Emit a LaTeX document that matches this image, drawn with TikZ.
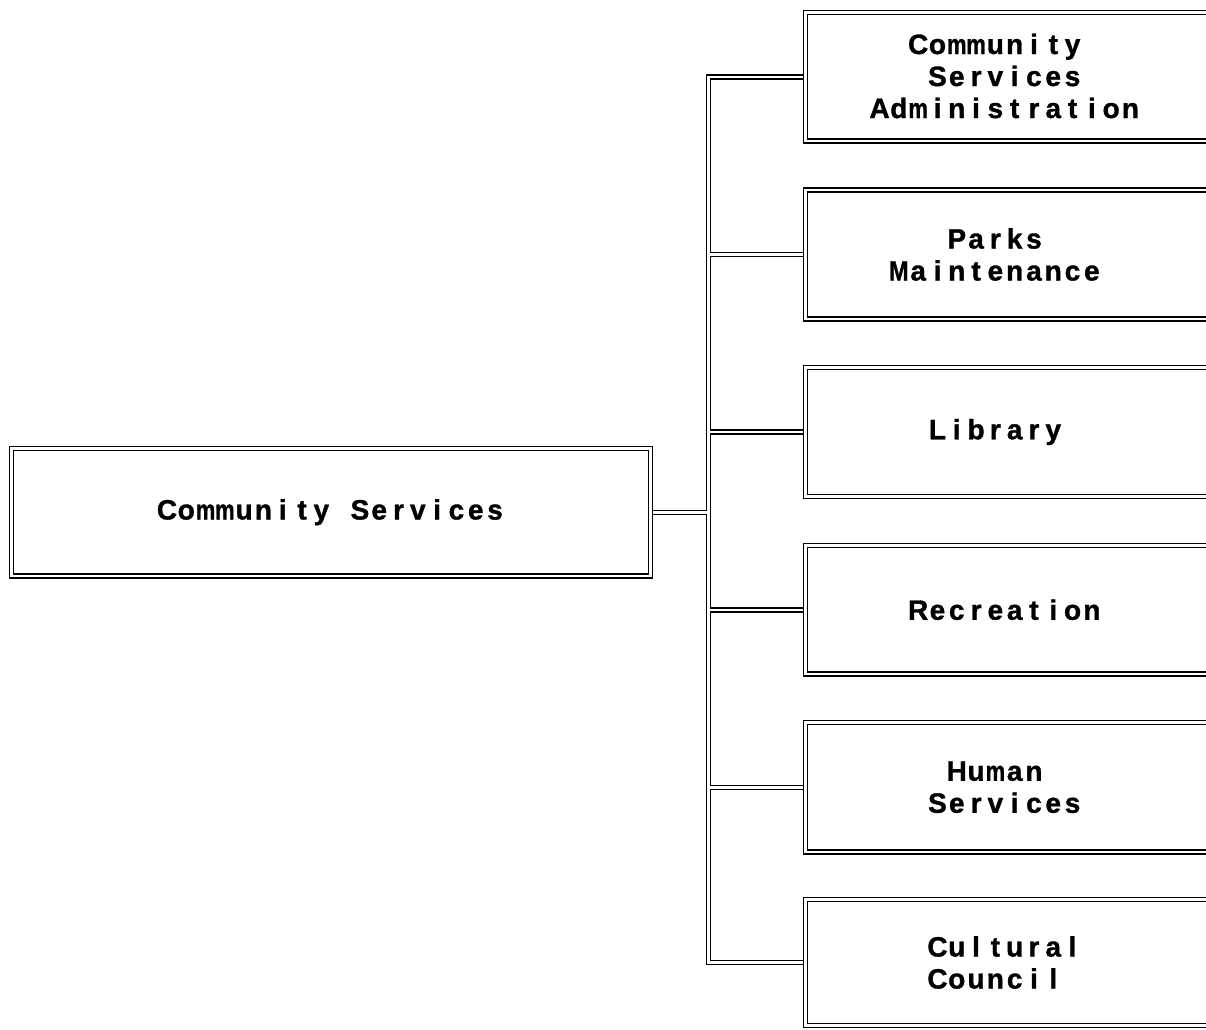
\documentclass[tikz,border=0pt]{standalone}
\usepackage{fontspec}
\usepackage{graphicx}
\setmainfont{Liberation Sans}[BoldFeatures={FakeBold=1.2}]
\usetikzlibrary{backgrounds}
\newsavebox\chbox
\newlength\cellw \setlength\cellw{19.3pt}
\newcommand\cellch[1]{\sbox\chbox{#1}\ifdim\wd\chbox>21pt\relax\makebox[\cellw]{\resizebox{19.5pt}{\height}{\usebox\chbox}}\else\makebox[\cellw]{\usebox\chbox}\fi}
\ExplSyntaxOn
\NewDocumentCommand\grid{m}{\str_map_inline:nn{#1}{\cellch{##1}}}
\ExplSyntaxOff
\newcommand\boxfont{\fontsize{28}{32}\selectfont\bfseries}
\tikzset{
  dbl/.style={draw=black, line width=1.5pt, double=white, double distance=2.5pt},
  unit/.style={dbl, fill=white, rectangle, inner sep=0pt, outer sep=0pt, font=\boxfont},
  link/.style={dbl, line join=miter, line cap=butt},
  lbl/.style={align=center, inner sep=0pt, font=\boxfont},
}
\begin{document}
\begin{tikzpicture}[x=1pt,y=-1pt]
\useasboundingbox (0,0) rectangle (1206,1029);
\clip (0,0) rectangle (1206,1029);
\node[unit, minimum width=639pt, minimum height=127.5pt] (cs) at (331,512.25) {\grid{Community Services}};
\node[unit, minimum width=414.5pt, minimum height=128.5pt] (r1) at (1012.75,76.75) {};
\node[unit, minimum width=414.5pt, minimum height=129pt] (r2) at (1012.75,254.5) {};
\node[unit, minimum width=414.5pt, minimum height=129pt] (r3) at (1012.75,432) {};
\node[unit, minimum width=414.5pt, minimum height=128.5pt] (r4) at (1012.75,609.75) {};
\node[unit, minimum width=414.5pt, minimum height=129.5pt] (r5) at (1012.75,787.25) {};
\node[unit, minimum width=414.5pt, minimum height=126pt] (r6) at (1012.75,962.5) {};
\node[lbl] (t1) at (1005,76) {\grid{Community }\\\grid{Services}\\\grid{Administration}};
\node[lbl] (t2) at (1005,254.5) {\grid{Parks }\\\grid{Maintenance }};
\node[lbl] (t3) at (1005,432) {\grid{Library }};
\node[lbl] (t4) at (1005,609.75) {\grid{Recreation}};
\node[lbl] (t5) at (1005,787.25) {\grid{Human }\\\grid{Services}};
\node[lbl] (t6) at (1005,962.5) {\grid{Cultural}\\\grid{Council }};
\coordinate (tk) at (708.5,512.25);
\begin{scope}[on background layer]
\draw[link] (r1.west) -- (r1.west -| tk) -- (r6.west -| tk) -- (r6.west)
  (cs.east) -- (tk)
  (r2.west) -- (r2.west -| tk)
  (r3.west) -- (r3.west -| tk)
  (r4.west) -- (r4.west -| tk)
  (r5.west) -- (r5.west -| tk);
\end{scope}
\end{tikzpicture}
\end{document}
